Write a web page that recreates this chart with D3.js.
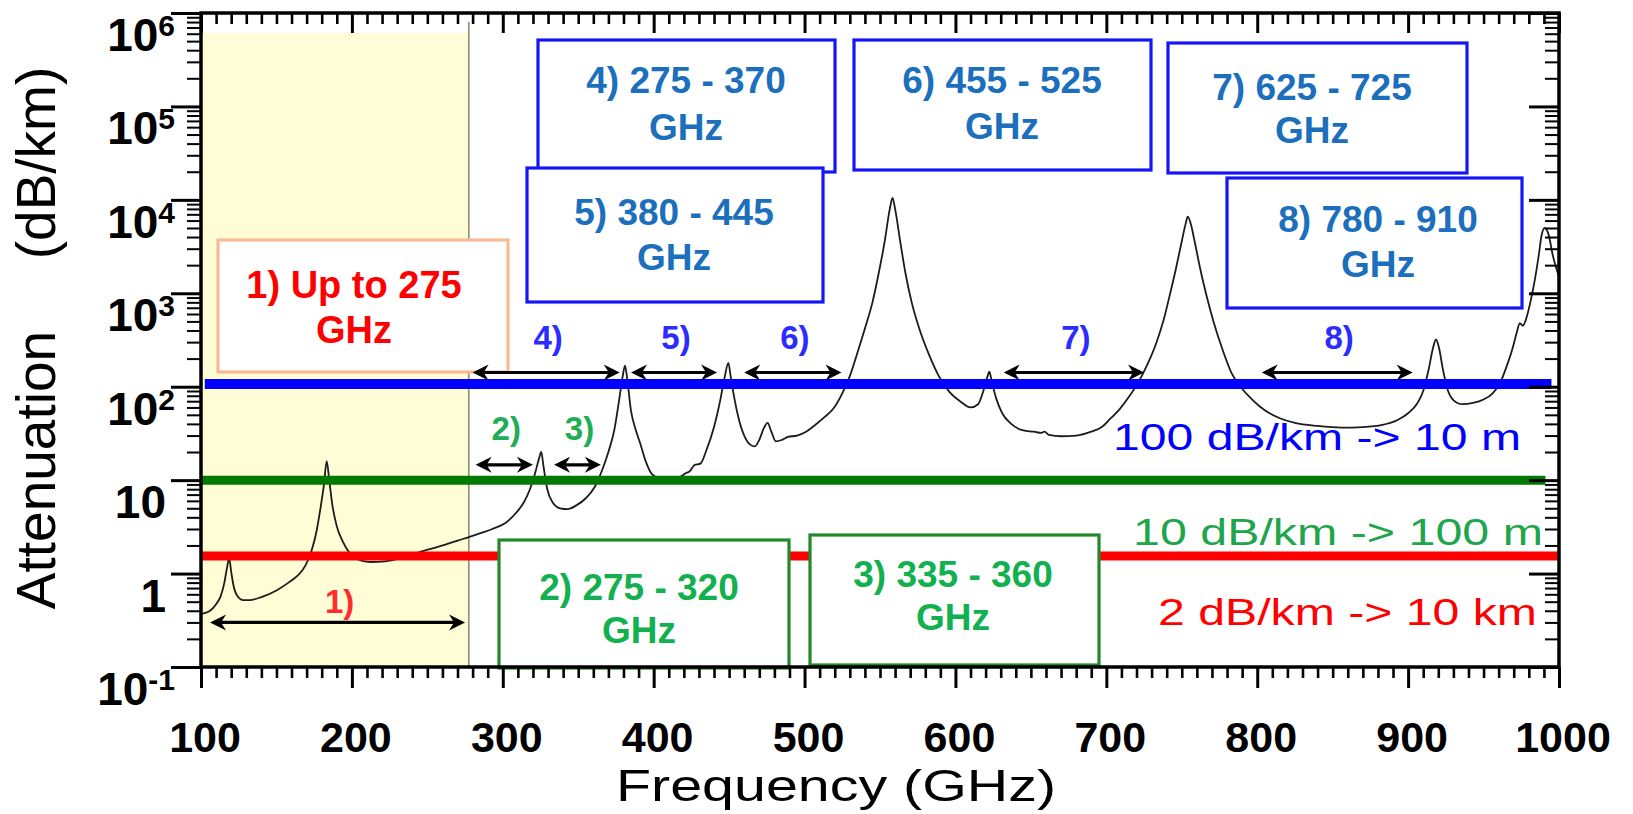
<!DOCTYPE html>
<html><head><meta charset="utf-8">
<script src="https://cdn.jsdelivr.net/npm/d3@7"></script>
<style>
body{margin:0;background:#fff;}
svg{display:block;}
text{font-family:"Liberation Sans",Arial,Helvetica,sans-serif;}
</style>
</head><body>
<svg id="chart" width="1633" height="814"></svg>
<script>
// ---------------- data ----------------
const freqGHz = [100,103,106,110,113,115.5,117,118.7,120,121.5,124,128,132,140,150,158,164,169,173,176.5,179,181.5,183.3,185,187,190,194,198,204,212,222,232,245,258,270,282,293,302,309,314,318,321.5,324,325.5,327,329.5,333,338,343,349,355,361,366,370,374,377,379.5,381,382.5,385,388,391,395,399,404,410,416,421,424,427,431,435,440,444,447,449.5,451,453.5,456,460,464,467,470,473,475.5,478,481,485,489,495,501,507,513,519,525,530,535,540,545,549,553,556.5,558.3,560,563.5,567,571,576,582,589,596,603,610,615,618,621,622.5,624,627,631,637,645,652,657,659,662,670,680,690,697,703,709,715,721,727,733,738,742,746,750,752.5,754,756,758.5,762,766,771,777,783,790,797,805,815,825,840,856,870,883,893,900,906,910,913.5,916.5,918.5,920.5,923,926,930,936,943,950,956,961,965,969,972,974,976,978,981,984,986.5,988.5,990.5,993,996,1000];
const attenuation = [0.37,0.38,0.40,0.47,0.57,0.8,1.1,1.45,1.05,0.75,0.58,0.52,0.52,0.56,0.66,0.8,0.95,1.2,1.7,2.8,4.8,9,16,10,5.5,3.2,2.2,1.7,1.42,1.33,1.35,1.45,1.7,1.95,2.25,2.6,3.0,3.5,4.5,5.8,8,12,17,20,14,8,5.8,5.0,4.9,5.4,6.4,8.5,13,20,35,70,130,168,120,55,35,25,15.5,11.5,10.4,10.1,10.5,11.8,12.5,14.5,15,21,37,70,125,180,130,75,48,30,24,23,27,36,41,33,26,27,29,30,33,39,47,58,85,130,230,420,800,1600,3500,8000,10500,8000,3500,1600,800,420,230,130,88,70,60,65,85,125,145,115,75,52,40,34,33,32,33,30.5,29.5,30,33,37,46,58,78,110,170,290,520,950,1800,3600,5500,6600,5500,3600,1900,1000,500,250,140,95,72,56,46,41,38,36.5,37,39,44,52,66,90,150,260,320,260,155,95,72,65,67,73,85,110,160,250,380,480,450,520,800,1400,2500,4200,5000,4300,2500,1500];

const thresholdValues = [107, 10, 1.54];
const thresholdLabels = ["100 dB/km -> 10 m", "10 dB/km -> 100 m", "2 dB/km -> 10 km"];

const shadedBandGHz = [100, 277.5];

const bandNames = ["1)", "2)", "3)", "4)", "5)", "6)", "7)", "8)"];
const bandArrowStart = [106, 282, 334, 280, 385, 460, 632, 803];
const bandArrowEnd   = [275, 320, 365, 377.5, 442, 524.5, 725, 903];
const bandArrowLevel = [0.30, 14.6, 14.6, 142, 142, 142, 142, 142];
const bandBoxLine1 = ["1) Up to 275", "2) 275 - 320", "3) 335 - 360", "4) 275 - 370", "5) 380 - 445", "6) 455 - 525", "7) 625 - 725", "8) 780 - 910"];
const bandBoxLine2 = ["GHz", "GHz", "GHz", "GHz", "GHz", "GHz", "GHz", "GHz"];

const xTickValues = [100, 200, 300, 400, 500, 600, 700, 800, 900, 1000];
const yTickValues = [0.1, 1, 10, 100, 1e3, 1e4, 1e5, 1e6];
const yTickBase = ["10", "1", "10", "10", "10", "10", "10", "10"];
const yTickExp  = ["-1", "", "", "2", "3", "4", "5", "6"];

const xAxisTitle = "Frequency (GHz)";
const yAxisTitle1 = "Attenuation";
const yAxisTitle2 = "(dB/km)";

// ---------------- layout / style ----------------
const L = 201, R = 1559, T = 13, B = 667;
const svg = d3.select("#chart");
const x = d3.scaleLinear().domain([100, 1000]).range([L, R]);
const y = d3.scaleLog().domain([0.1, 1e6]).range([B, T]);

// shaded band (up to 275 GHz)
svg.append("rect")
  .attr("x", x(shadedBandGHz[0])).attr("y", 33)
  .attr("width", x(shadedBandGHz[1]) - x(shadedBandGHz[0]))
  .attr("height", B - 33)
  .attr("fill", "#fefdd6");
svg.append("line")
  .attr("x1", x(shadedBandGHz[1])).attr("x2", x(shadedBandGHz[1]))
  .attr("y1", 22).attr("y2", B)
  .attr("stroke", "#8e8e72").attr("stroke-width", 1.6);

// attenuation curve (drawn below threshold bars)
svg.append("defs").append("clipPath").attr("id", "clip")
  .append("rect").attr("x", L).attr("y", T).attr("width", R - L).attr("height", B - T);
const pts = freqGHz.map((f, i) => [f, attenuation[i]]);
svg.append("path")
  .datum(pts)
  .attr("clip-path", "url(#clip)")
  .attr("fill", "none")
  .attr("stroke", "#1c1c1c")
  .attr("stroke-width", 1.8)
  .attr("d", d3.line().x(d => x(d[0])).y(d => y(d[1])).curve(d3.curveMonotoneX));

// threshold bars
const thrColors = ["#0000ff", "#007a00", "#ff0000"];
const thrExtent = [[102.5, 995], [100, 991], [100, 1000]];
const thrWidth = [10, 9, 9];
thresholdValues.forEach((v, i) => {
  svg.append("line")
    .attr("x1", x(thrExtent[i][0])).attr("x2", x(thrExtent[i][1]))
    .attr("y1", y(v)).attr("y2", y(v))
    .attr("stroke", thrColors[i]).attr("stroke-width", thrWidth[i]);
});

// threshold labels
const thrLabelColor = ["#0000ff", "#1fa54c", "#ff0000"];
const thrLabelPos = [[1113, 450, 408], [1133, 545, 410], [1158, 625, 379]];
thresholdLabels.forEach((t, i) => {
  svg.append("text")
    .attr("x", thrLabelPos[i][0]).attr("y", thrLabelPos[i][1])
    .attr("font-size", 37)
    .attr("textLength", thrLabelPos[i][2]).attr("lengthAdjust", "spacingAndGlyphs")
    .attr("fill", thrLabelColor[i])
    .text(t);
});

// band boxes
const boxRects = [
  [218, 240, 508, 372], [499, 540, 789, 668], [810, 535, 1099, 665],
  [538, 40, 835, 172], [527, 168, 823, 302], [854, 40, 1151, 170],
  [1168, 43, 1467, 173], [1227, 178, 1522, 308]
];
const boxText = [
  [354, 298, 343], [639, 600, 643], [953, 587, 630],
  [686, 93, 140], [674, 225, 270], [1002, 93, 139],
  [1312, 100, 143], [1378, 232, 277]
];
const boxFont = [38, 37, 37, 37, 37, 37, 37, 37];
const boxStroke = ["#f7bb93", "#22892a", "#22892a", "#1616f5", "#1616f5", "#1616f5", "#1616f5", "#1616f5"];
const boxFill = ["#ff0000", "#12b04f", "#12b04f", "#1b6fbd", "#1b6fbd", "#1b6fbd", "#1b6fbd", "#1b6fbd"];
bandBoxLine1.forEach((t, i) => {
  const r = boxRects[i];
  const g = svg.append("g");
  g.append("rect")
    .attr("x", r[0]).attr("y", r[1]).attr("width", r[2] - r[0]).attr("height", r[3] - r[1])
    .attr("fill", "#ffffff").attr("stroke", boxStroke[i]).attr("stroke-width", 3.2);
  g.append("text").attr("x", boxText[i][0]).attr("y", boxText[i][1])
    .attr("text-anchor", "middle").attr("font-size", boxFont[i]).attr("font-weight", "bold")
    .attr("fill", boxFill[i]).text(t);
  g.append("text").attr("x", boxText[i][0]).attr("y", boxText[i][2])
    .attr("text-anchor", "middle").attr("font-size", boxFont[i]).attr("font-weight", "bold")
    .attr("fill", boxFill[i]).text(bandBoxLine2[i]);
});

// band arrows
const arrowLabelColor = ["#ff2d2d", "#20ad55", "#20ad55", "#2c2cff", "#2c2cff", "#2c2cff", "#2c2cff", "#2c2cff"];
const arrowLabelOffset = [21, 37, 37, 35, 35, 35, 35, 35];
bandNames.forEach((n, i) => {
  const x0 = x(bandArrowStart[i]), x1 = x(bandArrowEnd[i]), yy = y(bandArrowLevel[i]);
  const hl = 16, hw = 8, nt = 11;
  const g = svg.append("g");
  g.append("line").attr("x1", x0 + 6).attr("x2", x1 - 6).attr("y1", yy).attr("y2", yy)
    .attr("stroke", "#000").attr("stroke-width", 3.2);
  g.append("path").attr("fill", "#000")
    .attr("d", `M${x0},${yy} L${x0 + hl},${yy - hw} L${x0 + nt},${yy} L${x0 + hl},${yy + hw} Z`);
  g.append("path").attr("fill", "#000")
    .attr("d", `M${x1},${yy} L${x1 - hl},${yy - hw} L${x1 - nt},${yy} L${x1 - hl},${yy + hw} Z`);
  svg.append("text")
    .attr("x", (x0 + x1) / 2 + 2).attr("y", yy - arrowLabelOffset[i] + 12)
    .attr("text-anchor", "middle").attr("font-size", 33).attr("font-weight", "bold")
    .attr("fill", arrowLabelColor[i]).text(n);
});

// axes (ticks through d3 axes)
const minorX = d3.range(100, 1001, 10).filter(v => v % 100 !== 0);
const minorY = [];
for (let e = -1; e < 6; e++) for (let k = 2; k <= 9; k++) minorY.push(k * Math.pow(10, e));

function styleAxis(g, w) {
  g.select(".domain").remove();
  g.selectAll(".tick line").attr("stroke", "#000").attr("stroke-width", w);
  g.selectAll(".tick text").remove();
}
// bottom (outward)
svg.append("g").attr("transform", `translate(0,${B})`)
  .call(d3.axisBottom(x).tickValues(xTickValues).tickSize(21).tickFormat(""))
  .call(g => styleAxis(g, 3));
svg.append("g").attr("transform", `translate(0,${B})`)
  .call(d3.axisBottom(x).tickValues(minorX).tickSize(11).tickFormat(""))
  .call(g => styleAxis(g, 2.6));
// top (inward)
svg.append("g").attr("transform", `translate(0,${T})`)
  .call(d3.axisBottom(x).tickValues(xTickValues).tickSize(20).tickFormat(""))
  .call(g => styleAxis(g, 3));
svg.append("g").attr("transform", `translate(0,${T})`)
  .call(d3.axisBottom(x).tickValues(minorX).tickSize(11).tickFormat(""))
  .call(g => styleAxis(g, 2.6));
// left (outward)
svg.append("g").attr("transform", `translate(${L},0)`)
  .call(d3.axisLeft(y).tickValues(yTickValues).tickSize(30).tickFormat(""))
  .call(g => styleAxis(g, 3));
svg.append("g").attr("transform", `translate(${L},0)`)
  .call(d3.axisLeft(y).tickValues(minorY).tickSize(14).tickFormat(""))
  .call(g => styleAxis(g, 2));
// right (inward)
svg.append("g").attr("transform", `translate(${R},0)`)
  .call(d3.axisLeft(y).tickValues(yTickValues).tickSize(30).tickFormat(""))
  .call(g => styleAxis(g, 3));
svg.append("g").attr("transform", `translate(${R},0)`)
  .call(d3.axisLeft(y).tickValues(minorY).tickSize(14).tickFormat(""))
  .call(g => styleAxis(g, 2));

// frame
svg.append("rect").attr("x", L).attr("y", T).attr("width", R - L).attr("height", B - T)
  .attr("fill", "none").attr("stroke", "#000").attr("stroke-width", 3.5);

// tick labels
xTickValues.forEach(v => {
  svg.append("text").attr("x", x(v) + 4).attr("y", 752)
    .attr("text-anchor", "middle").attr("font-size", 43).attr("font-weight", "bold")
    .attr("fill", "#000").text(v);
});
yTickValues.forEach((v, i) => {
  const t = svg.append("text")
    .attr("x", yTickExp[i] ? 175 : 166).attr("y", y(v) + 38)
    .attr("text-anchor", "end").attr("font-size", 46).attr("font-weight", "bold")
    .attr("fill", "#000");
  t.append("tspan").text(yTickBase[i]);
  if (yTickExp[i]) t.append("tspan").attr("font-size", 30).attr("dy", -15).text(yTickExp[i]);
});

// axis titles
svg.append("text").attr("x", 836).attr("y", 801)
  .attr("text-anchor", "middle").attr("font-size", 44)
  .attr("textLength", 440).attr("lengthAdjust", "spacingAndGlyphs")
  .attr("fill", "#000").text(xAxisTitle);
svg.append("text").attr("transform", "translate(55,470) rotate(-90)")
  .attr("text-anchor", "middle").attr("font-size", 55).attr("fill", "#000").text(yAxisTitle1);
svg.append("text").attr("transform", "translate(55,163) rotate(-90)")
  .attr("text-anchor", "middle").attr("font-size", 55).attr("fill", "#000").text(yAxisTitle2);
</script>
</body></html>
